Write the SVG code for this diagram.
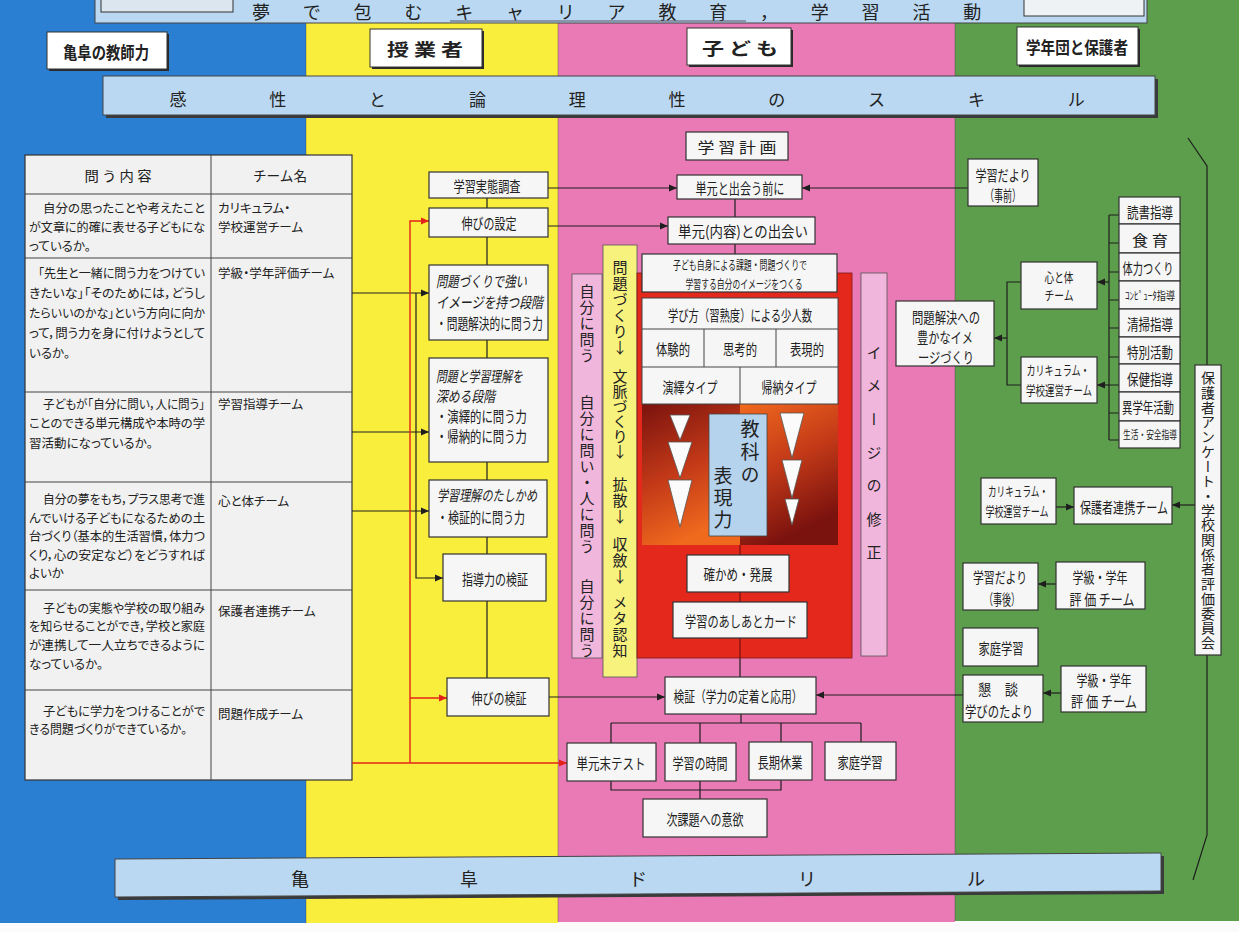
<svg xmlns="http://www.w3.org/2000/svg" width="1239" height="932" viewBox="0 0 1239 932">
<defs>
<marker id="ab" markerWidth="8" markerHeight="8" refX="8" refY="4" orient="auto" markerUnits="userSpaceOnUse"><path d="M0,0.5 L8,4 L0,7.5 z" fill="#1e1e1e"/></marker>
<marker id="ar" markerWidth="8" markerHeight="8" refX="8" refY="4" orient="auto" markerUnits="userSpaceOnUse"><path d="M0,0.5 L8,4 L0,7.5 z" fill="#e3231a"/></marker>
<linearGradient id="gL" x1="0" y1="0" x2="0.35" y2="1"><stop offset="0" stop-color="#7a120e"/><stop offset="0.55" stop-color="#c43a18"/><stop offset="1" stop-color="#f06a1e"/></linearGradient>
<linearGradient id="gR" x1="0" y1="0" x2="0.35" y2="1"><stop offset="0" stop-color="#f06a1e"/><stop offset="0.5" stop-color="#c43a18"/><stop offset="1" stop-color="#7a120e"/></linearGradient>
<style>
.t{font-family:"Noto Sans CJK JP","Noto Sans CJK SC",sans-serif;fill:#222}
.c{text-anchor:middle;dominant-baseline:central}
.m{dominant-baseline:central}
.box{fill:#f6f6f6;stroke:#333;stroke-width:1.2}
.hb{fill:#fff;stroke:#333;stroke-width:1}
.sh{fill:#2a2a2a}
.ban{fill:#bad8f1;stroke:#444;stroke-width:1}
.ln{fill:none;stroke:#1e1e1e;stroke-width:1.2}
.rl{fill:none;stroke:#e3231a;stroke-width:1.4}
.v{writing-mode:vertical-rl;text-orientation:upright}
.it{font-style:italic}
.b{font-weight:700}
.f11{font-size:11px}.f12{font-size:12px}.f13{font-size:13px}.f14{font-size:14px}.f15{font-size:15px}.f17{font-size:17px}
.tb{font-size:12.5px;font-feature-settings:"palt"}
.tri{fill:#fbfbfb;stroke:#555;stroke-width:0.8}
</style>
</defs>
<rect width="1239" height="932" fill="#fbfbfb"/>
<g id="columns">
<rect x="0" y="0" width="306" height="923" fill="#2b7fd2"/>
<rect x="306" y="0" width="252" height="923" fill="#faee3c"/>
<rect x="558" y="0" width="397" height="922" fill="#e97ab6"/>
<rect x="955" y="0" width="284" height="921" fill="#5c9e4c"/>
<path d="M306,0V923 M558,0V922 M955,0V921" stroke="#444" stroke-width="0.8" opacity="0.5"/>
</g>
<g id="title">
<rect x="95" y="-2" width="1052" height="25" class="ban"/>
<rect x="101" y="-2" width="132" height="14" fill="#dce6ee" stroke="#333"/>
<rect x="1024" y="-2" width="120" height="18" fill="#eef2f5" stroke="#333"/>
<text class="t m" x="252" y="11" font-size="18" letter-spacing="32.8">夢で包むキャリア教育，学習活動</text>
<path d="M450,21 H746" stroke="#556" stroke-width="1"/>
</g>
<g id="h-kyoshi"><rect x="49" y="34" width="120" height="37" class="sh"/><rect x="47" y="32" width="120" height="37" class="hb"/><text class="t c b f17" x="106" y="51" textLength="86" lengthAdjust="spacingAndGlyphs">亀阜の教師力</text></g>
<g id="h-jugyo"><rect x="372" y="31" width="112" height="38" class="sh"/><rect x="370" y="29" width="112" height="38" class="hb"/><text class="t c b f17" x="425" y="48" textLength="76" lengthAdjust="spacingAndGlyphs">授 業 者</text></g>
<g id="h-kodomo"><rect x="689" y="30" width="104" height="37" class="sh"/><rect x="687" y="28" width="104" height="37" class="hb"/><text class="t c b f17" x="740" y="47" textLength="76" lengthAdjust="spacingAndGlyphs">子 ど も</text></g>
<g id="h-gakunen"><rect x="1019" y="29" width="121" height="38" class="sh"/><rect x="1017" y="27" width="121" height="38" class="hb"/><text class="t c b f17" x="1077" y="46" textLength="102" lengthAdjust="spacingAndGlyphs">学年団と保護者</text></g>
<g id="skill">
<rect x="106" y="79" width="1052" height="39" fill="#3a3a3a"/>
<rect x="103" y="76" width="1052" height="39" class="ban"/>
<text class="t m" x="169.5" y="98" font-size="17" letter-spacing="82.8">感性と論理性のスキル</text>
</g>
<g id="table">
<rect x="25" y="155" width="327" height="625" fill="#f1f1f1" stroke="#333" stroke-width="1.2"/>
<path d="M211,155 V780 M25,194 H352 M25,258 H352 M25,392 H352 M25,482 H352 M25,590 H352 M25,690 H352" stroke="#444" stroke-width="1"/>
<text class="t c f14" x="118" y="175" textLength="67" lengthAdjust="spacingAndGlyphs">問 う 内 容</text>
<text class="t c f14" x="280" y="175" textLength="54" lengthAdjust="spacingAndGlyphs">チーム名</text>
<g class="t tb">
<text class="m" x="43" y="207" textLength="162" lengthAdjust="spacingAndGlyphs">自分の思ったことや考えたこと</text>
<text class="m" x="29" y="226" textLength="176" lengthAdjust="spacingAndGlyphs">が文章に的確に表せる子どもにな</text>
<text class="m" x="29" y="245">っているか。</text>
<text class="m" x="38" y="272" textLength="167" lengthAdjust="spacingAndGlyphs">「先生と一緒に問う力をつけてい</text>
<text class="m" x="29" y="292" textLength="176" lengthAdjust="spacingAndGlyphs">きたいな」「そのためには，どうし</text>
<text class="m" x="29" y="312" textLength="176" lengthAdjust="spacingAndGlyphs">たらいいのかな」という方向に向か</text>
<text class="m" x="29" y="332" textLength="176" lengthAdjust="spacingAndGlyphs">って，問う力を身に付けようとして</text>
<text class="m" x="29" y="352">いるか。</text>
<text class="m" x="43" y="403" textLength="162" lengthAdjust="spacingAndGlyphs">子どもが「自分に問い，人に問う」</text>
<text class="m" x="29" y="422" textLength="176" lengthAdjust="spacingAndGlyphs">ことのできる単元構成や本時の学</text>
<text class="m" x="29" y="442">習活動になっているか。</text>
<text class="m" x="43" y="498" textLength="162" lengthAdjust="spacingAndGlyphs">自分の夢をもち，プラス思考で進</text>
<text class="m" x="29" y="517" textLength="176" lengthAdjust="spacingAndGlyphs">んでいける子どもになるための土</text>
<text class="m" x="29" y="535" textLength="176" lengthAdjust="spacingAndGlyphs">台づくり（基本的生活習慣，体力つ</text>
<text class="m" x="29" y="554" textLength="176" lengthAdjust="spacingAndGlyphs">くり，心の安定など）をどうすれば</text>
<text class="m" x="29" y="572">よいか</text>
<text class="m" x="43" y="607" textLength="162" lengthAdjust="spacingAndGlyphs">子どもの実態や学校の取り組み</text>
<text class="m" x="29" y="625" textLength="176" lengthAdjust="spacingAndGlyphs">を知らせることができ，学校と家庭</text>
<text class="m" x="29" y="644" textLength="176" lengthAdjust="spacingAndGlyphs">が連携して一人立ちできるように</text>
<text class="m" x="29" y="663">なっているか。</text>
<text class="m" x="43" y="710" textLength="162" lengthAdjust="spacingAndGlyphs">子どもに学力をつけることがで</text>
<text class="m" x="29" y="728" textLength="158" lengthAdjust="spacingAndGlyphs">きる問題づくりができているか。</text>
<text class="m" x="218" y="207">カリキュラム・</text>
<text class="m" x="218" y="226">学校運営チーム</text>
<text class="m" x="218" y="272">学級・学年評価チーム</text>
<text class="m" x="218" y="403">学習指導チーム</text>
<text class="m" x="218" y="500">心と体チーム</text>
<text class="m" x="218" y="610">保護者連携チーム</text>
<text class="m" x="218" y="713">問題作成チーム</text>
</g>
</g>
<g id="connectors">
<path class="ln" d="M548,188 H677" marker-end="url(#ab)"/>
<path class="ln" d="M548,226 H668" marker-end="url(#ab)"/>
<path class="ln" d="M487,198 V208 M487,237 V265 M487,340 V358 M487,462 V480 M487,537 V554 M487,601 V678"/>
<path class="ln" d="M352,293 H429" marker-end="url(#ab)"/>
<path class="ln" d="M352,432 H429" marker-end="url(#ab)"/>
<path class="ln" d="M352,511 H429" marker-end="url(#ab)"/>
<path class="ln" d="M416,293 V578 H443" marker-end="url(#ab)"/>
<path class="ln" d="M549,697 H665" marker-end="url(#ab)"/>
<path class="ln" d="M735,198 V217 M735,244 V254"/>
<path class="ln" d="M740,545 V677" stroke-width="1"/>
<path class="ln" d="M968,188 H802" marker-end="url(#ab)"/>
<path class="ln" d="M963,695 H816" marker-end="url(#ab)"/>
<path class="ln" d="M741,714 V723 M611,723 H861 M611,723 V743 M700,723 V743 M781,723 V742 M861,723 V742"/>
<path class="ln" d="M611,781 V790 H781 V780 M700,781 V799"/>
<path class="ln" d="M1109,215 V440 M1109,215 H1119 M1109,243 H1119 M1109,272 H1119 M1109,300 H1119 M1109,328 H1119 M1109,357 H1119 M1109,385 H1119 M1109,413 H1119 M1109,440 H1119"/>
<path class="ln" d="M1109,282 H1097" marker-end="url(#ab)"/>
<path class="ln" d="M1109,385 H1097" marker-end="url(#ab)"/>
<path class="ln" d="M1021,282 H1007 V385 H1021"/>
<path class="ln" d="M1007,338 H994" marker-end="url(#ab)"/>
<path class="ln" d="M1056,507 H1074" marker-end="url(#ab)"/>
<path class="ln" d="M1195,505 H1172" marker-end="url(#ab)"/>
<path class="ln" d="M1056,584 H1038" marker-end="url(#ab)"/>
<path class="ln" d="M1061,693 H1043" marker-end="url(#ab)"/>
<path class="ln" d="M1188,138 L1207,166 V365 M1207,655 V835 L1193,880" stroke-width="1"/>
<path class="rl" d="M352,763 H567" marker-end="url(#ar)"/>
<path class="rl" d="M410,763 V221 H429" marker-end="url(#ar)"/>
<path class="rl" d="M410,698 H447" marker-end="url(#ar)"/>
</g>
<g id="n-jittai"><rect x="429" y="172" width="119" height="26" class="box"/><text class="t c f15" x="487" y="185" textLength="67" lengthAdjust="spacingAndGlyphs">学習実態調査</text></g>
<g id="n-nobi-settei"><rect x="429" y="208" width="119" height="29" class="box"/><text class="t c f15" x="489" y="222" textLength="55" lengthAdjust="spacingAndGlyphs">伸びの設定</text></g>
<g id="n-dankai1"><rect x="429" y="265" width="119" height="75" class="box"/>
<text class="t m f15 it" x="436" y="280" textLength="91" lengthAdjust="spacingAndGlyphs">問題づくりで強い</text>
<text class="t m f15 it" x="436" y="301" textLength="107" lengthAdjust="spacingAndGlyphs">イメージを持つ段階</text>
<text class="t m f15" x="436" y="322" textLength="107" lengthAdjust="spacingAndGlyphs">・問題解決的に問う力</text></g>
<g id="n-dankai2"><rect x="429" y="358" width="119" height="104" class="box"/>
<text class="t m f15 it" x="436" y="375" textLength="87" lengthAdjust="spacingAndGlyphs">問題と学習理解を</text>
<text class="t m f15 it" x="436" y="395" textLength="59" lengthAdjust="spacingAndGlyphs">深める段階</text>
<text class="t m f15" x="436" y="415" textLength="91" lengthAdjust="spacingAndGlyphs">・演繹的に問う力</text>
<text class="t m f15" x="436" y="435" textLength="91" lengthAdjust="spacingAndGlyphs">・帰納的に問う力</text></g>
<g id="n-dankai3"><rect x="429" y="480" width="118" height="57" class="box"/>
<text class="t m f15 it" x="437" y="494" textLength="100" lengthAdjust="spacingAndGlyphs">学習理解のたしかめ</text>
<text class="t m f15" x="437" y="516" textLength="88" lengthAdjust="spacingAndGlyphs">・検証的に問う力</text></g>
<g id="n-shido"><rect x="443" y="554" width="103" height="47" class="box"/><text class="t c f15" x="495" y="578" textLength="66" lengthAdjust="spacingAndGlyphs">指導力の検証</text></g>
<g id="n-nobi-kensho"><rect x="447" y="678" width="102" height="38" class="box"/><text class="t c f15" x="499" y="697" textLength="55" lengthAdjust="spacingAndGlyphs">伸びの検証</text></g>
<g id="n-keikaku"><rect x="686" y="132" width="102" height="28" class="box"/><text class="t c f15" x="737" y="146" textLength="79" lengthAdjust="spacingAndGlyphs">学 習 計 画</text></g>
<g id="n-mae"><rect x="677" y="175" width="125" height="24" class="box"/><text class="t c f15" x="740" y="187" textLength="89" lengthAdjust="spacingAndGlyphs">単元と出会う前に</text></g>
<g id="n-deai"><rect x="668" y="217" width="147" height="27" class="box"/><text class="t c f15" x="743" y="230" textLength="130" lengthAdjust="spacingAndGlyphs">単元(内容)との出会い</text></g>
<g id="n-strip-left"><rect x="572" y="274" width="30" height="384" fill="#f1b6dc" stroke="#555" stroke-width="0.8"/>
<text class="t f15 v" x="587" y="284" letter-spacing="1">自分に問う</text>
<text class="t f15 v" x="587" y="395" letter-spacing="1">自分に問い・人に問う</text>
<text class="t f15 v" x="587" y="579" letter-spacing="1">自分に問う</text></g>
<g id="n-strip-yellow"><rect x="603" y="245" width="34" height="432" fill="#f7f17e" stroke="#555" stroke-width="0.8"/>
<text class="t f15 v" x="620" y="260" letter-spacing="1">問題づくり↓</text>
<text class="t f15 v" x="620" y="369" letter-spacing="0">文脈づくり↓</text>
<text class="t f15 v" x="620" y="477" letter-spacing="1">拡散↓</text>
<text class="t f15 v" x="620" y="537" letter-spacing="1">収斂↓</text>
<text class="t f15 v" x="620" y="595" letter-spacing="1">メタ認知</text></g>
<g id="n-core">
<rect x="637" y="273" width="215" height="385" fill="#e5281c" stroke="#7a1a12" stroke-width="0.8"/>
<rect x="642" y="404" width="98" height="141" fill="url(#gL)"/>
<rect x="740" y="404" width="98" height="141" fill="url(#gR)"/>
<path d="M740,545 V658" stroke="#5a0e0a" stroke-width="1"/>
<rect x="642" y="298" width="196" height="106" fill="#f6f6f6" stroke="#444" stroke-width="1"/>
<path d="M642,329 H838 M642,367 H838 M704,329 V367 M776,329 V367 M740,367 V404" stroke="#444" stroke-width="1"/>
<text class="t c f15" x="740" y="314" textLength="144" lengthAdjust="spacingAndGlyphs">学び方（習熟度）による少人数</text>
<text class="t c f15" x="673" y="348" textLength="34" lengthAdjust="spacingAndGlyphs">体験的</text>
<text class="t c f15" x="740" y="348" textLength="34" lengthAdjust="spacingAndGlyphs">思考的</text>
<text class="t c f15" x="807" y="348" textLength="34" lengthAdjust="spacingAndGlyphs">表現的</text>
<text class="t c f15" x="690" y="386" textLength="55" lengthAdjust="spacingAndGlyphs">演繹タイプ</text>
<text class="t c f15" x="789" y="386" textLength="55" lengthAdjust="spacingAndGlyphs">帰納タイプ</text>
<polygon class="tri" points="670,415 690,415 680,440"/>
<polygon class="tri" points="668,442 692,442 680,478"/>
<polygon class="tri" points="668,480 692,480 680,527"/>
<polygon class="tri" points="780,413 804,413 792,458"/>
<polygon class="tri" points="782,460 802,460 792,498"/>
<polygon class="tri" points="785,499 799,499 792,525"/>
<rect x="709" y="414" width="58" height="122" fill="#b6d3ee" stroke="#444" stroke-width="0.8"/>
<text class="t v" x="750" y="419" font-size="19" letter-spacing="4">教科の</text>
<text class="t v" x="723" y="466" font-size="19" letter-spacing="3">表現力</text>
</g>
<g id="n-jishin"><rect x="642" y="254" width="195" height="38" class="box"/>
<text class="t c f12" x="740" y="264" textLength="134" lengthAdjust="spacingAndGlyphs">子ども自身による課題・問題づくりで</text>
<text class="t c f12" x="744" y="283" textLength="117" lengthAdjust="spacingAndGlyphs">学習する自分のイメージをつくる</text></g>
<g id="n-tashikame"><rect x="687" y="555" width="102" height="37" class="box"/><text class="t c f15" x="738" y="573" textLength="69" lengthAdjust="spacingAndGlyphs">確かめ・発展</text></g>
<g id="n-ashiato"><rect x="673" y="602" width="134" height="36" class="box"/><text class="t c f15" x="741" y="620" textLength="112" lengthAdjust="spacingAndGlyphs">学習のあしあとカード</text></g>
<g id="n-strip-right"><rect x="861" y="273" width="26" height="383" fill="#f1b6dc" stroke="#555" stroke-width="0.8"/>
<text class="t f15 v" x="874" y="345" letter-spacing="18.3">イメージの修正</text></g>
<g id="n-kensho"><rect x="665" y="677" width="151" height="37" class="box"/><text class="t c f15" x="738" y="695" textLength="129" lengthAdjust="spacingAndGlyphs">検証（学力の定着と応用）</text></g>
<g id="n-test"><rect x="567" y="743" width="89" height="38" class="box"/><text class="t c f15" x="611" y="762" textLength="69" lengthAdjust="spacingAndGlyphs">単元末テスト</text></g>
<g id="n-jikan"><rect x="665" y="743" width="71" height="38" class="box"/><text class="t c f15" x="700" y="762" textLength="55" lengthAdjust="spacingAndGlyphs">学習の時間</text></g>
<g id="n-kyugyo"><rect x="749" y="742" width="63" height="38" class="box"/><text class="t c f15" x="780" y="761" textLength="45" lengthAdjust="spacingAndGlyphs">長期休業</text></g>
<g id="n-katei1"><rect x="825" y="742" width="71" height="38" class="box"/><text class="t c f15" x="860" y="761" textLength="45" lengthAdjust="spacingAndGlyphs">家庭学習</text></g>
<g id="n-jikadai"><rect x="643" y="799" width="124" height="38" class="box"/><text class="t c f15" x="705" y="818" textLength="77" lengthAdjust="spacingAndGlyphs">次課題への意欲</text></g>
<g id="n-dayori-mae"><rect x="968" y="159" width="70" height="47" class="box"/><text class="t c f15" x="1003" y="174" textLength="55" lengthAdjust="spacingAndGlyphs">学習だより</text><text class="t c f15" x="1003" y="194" textLength="36" lengthAdjust="spacingAndGlyphs">（事前）</text></g>
<g id="n-shido-list">
<rect x="1119" y="197" width="61" height="27" class="box"/><text class="t c f15" x="1150" y="211" textLength="46" lengthAdjust="spacingAndGlyphs">読書指導</text>
<rect x="1119" y="224" width="61" height="29" class="box"/><text class="t c f15" x="1150" y="239" textLength="36" lengthAdjust="spacingAndGlyphs">食 育</text>
<rect x="1119" y="253" width="61" height="28" class="box"/><text class="t c f15" x="1148" y="267" textLength="51" lengthAdjust="spacingAndGlyphs">体力つくり</text>
<rect x="1119" y="281" width="61" height="28" class="box"/><text class="t c f11" x="1150" y="295" textLength="50" lengthAdjust="spacingAndGlyphs">ｺﾝﾋﾟｭｰﾀ指導</text>
<rect x="1119" y="309" width="61" height="28" class="box"/><text class="t c f15" x="1150" y="323" textLength="46" lengthAdjust="spacingAndGlyphs">清掃指導</text>
<rect x="1119" y="337" width="61" height="27" class="box"/><text class="t c f15" x="1150" y="351" textLength="46" lengthAdjust="spacingAndGlyphs">特別活動</text>
<rect x="1119" y="364" width="61" height="28" class="box"/><text class="t c f15" x="1150" y="378" textLength="46" lengthAdjust="spacingAndGlyphs">保健指導</text>
<rect x="1119" y="392" width="61" height="29" class="box"/><text class="t c f15" x="1148" y="406" textLength="52" lengthAdjust="spacingAndGlyphs">異学年活動</text>
<rect x="1119" y="421" width="61" height="27" class="box"/><text class="t c f11" x="1150" y="434" textLength="54" lengthAdjust="spacingAndGlyphs">生活・安全指導</text>
</g>
<g id="n-kokoro"><rect x="1021" y="262" width="76" height="47" class="box"/><text class="t c f13" x="1059" y="276" textLength="29" lengthAdjust="spacingAndGlyphs">心と体</text><text class="t c f13" x="1059" y="294" textLength="29" lengthAdjust="spacingAndGlyphs">チーム</text></g>
<g id="n-curri1"><rect x="1021" y="357" width="76" height="46" class="box"/><text class="t c f13" x="1058" y="369" textLength="63" lengthAdjust="spacingAndGlyphs">カリキュラム・</text><text class="t c f13" x="1059" y="389" textLength="66" lengthAdjust="spacingAndGlyphs">学校運営チーム</text></g>
<g id="n-image"><rect x="896" y="301" width="98" height="65" class="box"/>
<text class="t c f15" x="946" y="316" textLength="68" lengthAdjust="spacingAndGlyphs">問題解決への</text><text class="t c f15" x="945" y="336" textLength="56" lengthAdjust="spacingAndGlyphs">豊かなイメ</text><text class="t c f15" x="946" y="356" textLength="56" lengthAdjust="spacingAndGlyphs">ージづくり</text></g>
<g id="n-enquete"><rect x="1195" y="365" width="26" height="290" class="box"/>
<text class="t f14 v" x="1208" y="371" letter-spacing="0.7">保護者アンケート・学校関係者評価委員会</text></g>
<g id="n-curri2"><rect x="981" y="478" width="75" height="46" class="box"/><text class="t c f13" x="1018" y="490" textLength="60" lengthAdjust="spacingAndGlyphs">カリキュラム・</text><text class="t c f13" x="1017" y="510" textLength="63" lengthAdjust="spacingAndGlyphs">学校運営チーム</text></g>
<g id="n-hogosha"><rect x="1074" y="487" width="98" height="37" class="box"/><text class="t c f15" x="1124" y="506" textLength="88" lengthAdjust="spacingAndGlyphs">保護者連携チーム</text></g>
<g id="n-dayori-go"><rect x="963" y="563" width="75" height="47" class="box"/><text class="t c f15" x="1000" y="576" textLength="54" lengthAdjust="spacingAndGlyphs">学習だより</text><text class="t c f15" x="1002" y="598" textLength="36" lengthAdjust="spacingAndGlyphs">（事後）</text></g>
<g id="n-hyoka1"><rect x="1056" y="562" width="89" height="47" class="box"/><text class="t c f15" x="1100" y="576" textLength="55" lengthAdjust="spacingAndGlyphs">学級・学年</text><text class="t c f15" x="1102" y="598" textLength="65" lengthAdjust="spacingAndGlyphs">評 価 チーム</text></g>
<g id="n-katei2"><rect x="963" y="628" width="75" height="38" class="box"/><text class="t c f15" x="1001" y="647" textLength="45" lengthAdjust="spacingAndGlyphs">家庭学習</text></g>
<g id="n-kondan"><rect x="963" y="675" width="80" height="47" class="box"/><text class="t c f15" x="998" y="688" textLength="40" lengthAdjust="spacingAndGlyphs">懇　談</text><text class="t c f15" x="999" y="710" textLength="68" lengthAdjust="spacingAndGlyphs">学びのたより</text></g>
<g id="n-hyoka2"><rect x="1061" y="666" width="85" height="46" class="box"/><text class="t c f15" x="1104" y="679" textLength="55" lengthAdjust="spacingAndGlyphs">学級・学年</text><text class="t c f15" x="1104" y="700" textLength="66" lengthAdjust="spacingAndGlyphs">評 価 チーム</text></g>
<g id="drill">
<polygon points="118,862 1164,856 1164,894 118,900" fill="#3a3a3a"/>
<polygon points="115,859 1161,853 1161,891 115,897" class="ban"/>
<text class="t m" x="291" y="878" font-size="18" letter-spacing="151">亀阜ドリル</text>
</g>
</svg>
